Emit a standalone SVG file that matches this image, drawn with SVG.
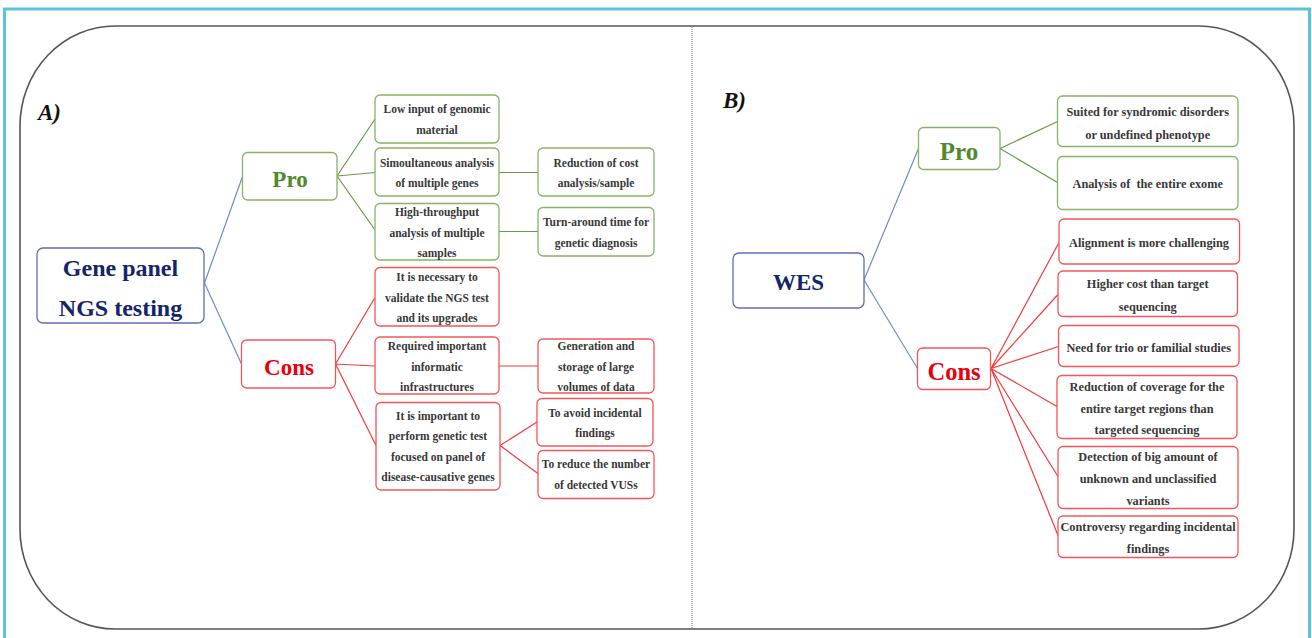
<svg xmlns="http://www.w3.org/2000/svg" width="1312" height="638" viewBox="0 0 1312 638">
<style>
text{font-family:"Liberation Serif","Times New Roman",serif;font-weight:bold;text-anchor:middle}
.t{font-size:11.5px;fill:#383838}
.tb{font-size:12.3px;fill:#383838}
.big{font-size:24px}
.navy{fill:#15256a}
.grn{fill:#4f8a2b}
.red{fill:#e8000b}
rect.n{fill:#fff;stroke-width:1.3}
.bg{stroke:#86b466}
.br{stroke:#f4555a}
.bb{stroke:#5d6fb3}
.cb{stroke:#6f8ccc;stroke-width:1.2;fill:none}
.cg{stroke:#6a9a47;stroke-width:1.2;fill:none}
.cr{stroke:#f53a3a;stroke-width:1.2;fill:none}
.lbl{font-size:23px;font-style:italic;fill:#111;text-anchor:start}
</style>
<rect x="0" y="0" width="1312" height="638" fill="#fff"/>
<rect x="4.5" y="9" width="1305" height="632" fill="none" stroke="#5bc4db" stroke-width="3"/>
<rect x="20" y="26" width="1274" height="603" rx="95" ry="100" fill="#fff" stroke="#555" stroke-width="1.6"/>
<line x1="692" y1="27" x2="692" y2="628" stroke="#777" stroke-width="1" stroke-dasharray="1 1"/>
<text class="lbl" x="38" y="120">A)</text>
<text class="lbl" x="723" y="108">B)</text>

<g id="connectors">
<path class="cb" d="M204.5 283 L242.5 176.5 M204.5 283 L241.5 364"/>
<path class="cg" d="M337 176 L375 119 M337 176 L375 172.5 M337 176 L375 230 M499 172.5 H538 M499 231.5 H538"/>
<path class="cr" d="M335.5 364 L375 297.5 M335.5 364 L375 366 M335.5 364 L376 445.5 M499 366 H538 M500 445.5 L537 422 M500 445.5 L538 473.5"/>
<path class="cb" d="M864 280 L918.5 148.5 M864 280 L917.5 368.5"/>
<path class="cg" d="M1000 148.5 L1057.5 121.5 M1000 148.5 L1057.5 182.5"/>
<path class="cr" d="M991 368.5 L1059 242.5 M991 368.5 L1058 294.5 M991 368.5 L1058.5 346.5 M991 368.5 L1057 406.5 M991 368.5 L1058 476.5 M991 368.5 L1058 535.5"/>
</g>

<g id="gene-panel"><rect class="n bb" x="37" y="248" width="167" height="75" rx="6"/><text class="big navy" x="120.5" y="276">Gene panel</text><text class="big navy" x="120.5" y="316">NGS testing</text></g>
<g id="pro-a"><rect class="n bg" x="242.5" y="152.5" width="94.5" height="47.5" rx="5"/><text class="big grn" x="290" y="187" style="font-size:23px">Pro</text></g>
<g id="cons-a"><rect class="n br" x="241.5" y="340" width="94" height="48" rx="5"/><text class="big red" x="289" y="375" style="font-size:23px">Cons</text></g>

<g id="a1"><rect class="n bg" x="375" y="95" width="124" height="48" rx="5"/><text class="t" x="437" y="113.3">Low input of genomic</text><text class="t" x="437" y="134">material</text></g>
<g id="a2"><rect class="n bg" x="375" y="148" width="124" height="48" rx="5"/><text class="t" x="437" y="166.7">Simoultaneous analysis</text><text class="t" x="437" y="187.3">of multiple genes</text></g>
<g id="a3"><rect class="n bg" x="375" y="203.5" width="124" height="56.5" rx="5"/><text class="t" x="437" y="216">High-throughput</text><text class="t" x="437" y="236.7">analysis of multiple</text><text class="t" x="437" y="257.3">samples</text></g>
<g id="a4"><rect class="n bg" x="538" y="148" width="116" height="48" rx="5"/><text class="t" x="596" y="166.7">Reduction of cost</text><text class="t" x="596" y="187.3">analysis/sample</text></g>
<g id="a5"><rect class="n bg" x="538" y="207.5" width="116" height="48.5" rx="5"/><text class="t" x="596" y="226">Turn-around time for</text><text class="t" x="596" y="246.7">genetic diagnosis</text></g>
<g id="a6"><rect class="n br" x="375" y="267.5" width="124" height="58.5" rx="5"/><text class="t" x="437" y="281">It is necessary to</text><text class="t" x="437" y="301.7">validate the NGS test</text><text class="t" x="437" y="322.3">and its upgrades</text></g>
<g id="a7"><rect class="n br" x="375" y="337" width="124" height="57" rx="5"/><text class="t" x="437" y="350">Required important</text><text class="t" x="437" y="370.7">informatic</text><text class="t" x="437" y="391">infrastructures</text></g>
<g id="a8"><rect class="n br" x="376" y="402.5" width="124" height="87.5" rx="5"/><text class="t" x="438" y="420">It is important to</text><text class="t" x="438" y="440.3">perform genetic test</text><text class="t" x="438" y="460.7">focused on panel of</text><text class="t" x="438" y="481">disease-causative genes</text></g>
<g id="a9"><rect class="n br" x="538" y="339" width="116" height="54" rx="5"/><text class="t" x="596" y="350">Generation and</text><text class="t" x="596" y="371">storage of large</text><text class="t" x="596" y="391">volumes of data</text></g>
<g id="a10"><rect class="n br" x="537" y="398.5" width="116" height="47.5" rx="5"/><text class="t" x="595" y="416.7">To avoid incidental</text><text class="t" x="595" y="437.3">findings</text></g>
<g id="a11"><rect class="n br" x="538" y="450.5" width="116" height="48" rx="5"/><text class="t" x="596" y="468.3">To reduce the number</text><text class="t" x="596" y="489.3">of detected VUSs</text></g>

<g id="wes"><rect class="n bb" x="733" y="253" width="131" height="55" rx="6"/><text class="big navy" x="798.5" y="289.5" style="font-size:23px">WES</text></g>
<g id="pro-b"><rect class="n bg" x="918.5" y="127.5" width="81.5" height="42" rx="5"/><text class="big grn" x="959" y="160" style="font-size:25px">Pro</text></g>
<g id="cons-b"><rect class="n br" x="917.5" y="348" width="73" height="41.5" rx="5"/><text class="big red" x="954" y="380" style="font-size:24.5px">Cons</text></g>

<g id="b1"><rect class="n bg" x="1057.5" y="96" width="180.5" height="50.5" rx="5"/><text class="tb" x="1147.7" y="116">Suited for syndromic disorders</text><text class="tb" x="1147.7" y="138.5">or undefined phenotype</text></g>
<g id="b2"><rect class="n bg" x="1057.5" y="156.5" width="180.5" height="53" rx="5"/><text class="tb" x="1147.7" y="188" xml:space="preserve">Analysis of  the entire exome</text></g>
<g id="b3"><rect class="n br" x="1059" y="219" width="180.5" height="45" rx="5"/><text class="tb" x="1149" y="247">Alignment is more challenging</text></g>
<g id="b4"><rect class="n br" x="1058" y="271" width="179.5" height="45.5" rx="5"/><text class="tb" x="1147.7" y="288.3">Higher cost than target</text><text class="tb" x="1147.7" y="310.5">sequencing</text></g>
<g id="b5"><rect class="n br" x="1058.5" y="325.5" width="180.5" height="41" rx="5"/><text class="tb" x="1148.7" y="351.5">Need for trio or familial studies</text></g>
<g id="b6"><rect class="n br" x="1057" y="375.5" width="180" height="63" rx="5"/><text class="tb" x="1147" y="390.7">Reduction of coverage for the</text><text class="tb" x="1147" y="412.7">entire target regions than</text><text class="tb" x="1147" y="434.3">targeted sequencing</text></g>
<g id="b7"><rect class="n br" x="1058" y="446.5" width="180" height="62" rx="5"/><text class="tb" x="1148" y="461">Detection of big amount of</text><text class="tb" x="1148" y="483.3">unknown and unclassified</text><text class="tb" x="1148" y="505">variants</text></g>
<g id="b8"><rect class="n br" x="1058" y="516" width="180" height="41.5" rx="5"/><text class="tb" x="1148" y="531">Controversy regarding incidental</text><text class="tb" x="1148" y="553.3">findings</text></g>
</svg>
